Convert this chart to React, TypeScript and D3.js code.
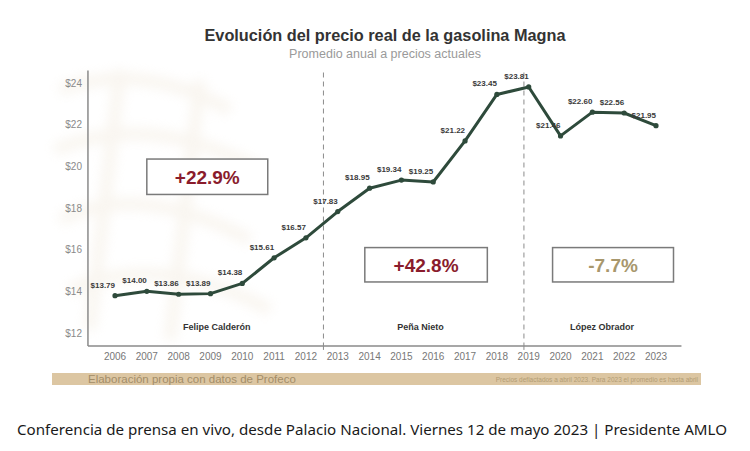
import React from "react";
import * as d3 from "d3";

const years = [2006, 2007, 2008, 2009, 2010, 2011, 2012, 2013, 2014, 2015, 2016, 2017, 2018, 2019, 2020, 2021, 2022, 2023];
const prices = [13.79, 14.0, 13.86, 13.89, 14.38, 15.61, 16.57, 17.83, 18.95, 19.34, 19.25, 21.22, 23.45, 23.81, 21.46, 22.6, 22.56, 21.95];
const yTicks = [12, 14, 16, 18, 20, 22, 24];
const dividers = [2012.55, 2018.85];
const presidents = ["Felipe Calderón", "Peña Nieto", "López Obrador"];
const presidentCenters = [2009.2, 2015.6, 2021.3];
const changes = ["+22.9%", "+42.8%", "-7.7%"];
const changeColors = ["#8a1c2c", "#8a1c2c", "#a8976c"];
const changeBoxes = [
  { x0: 2007.0, x1: 2010.8, y0: 20.35, y1: 18.65 },
  { x0: 2013.85, x1: 2017.7, y0: 16.1, y1: 14.45 },
  { x0: 2019.75, x1: 2023.55, y0: 16.1, y1: 14.45 },
];

const W = 750;
const H = 451;

export default function App() {
  const x = d3.scaleLinear().domain([2006, 2023]).range([115, 656]);
  const y = d3.scaleLinear().domain([12, 24]).range([333, 83]);
  const axisBottom = y(11.38);
  const axisTop = y(24.6);
  const axisLeft = x(2005.15);
  const axisRight = x(2023.8);
  const pts: [number, number][] = years.map((yr, i) => [x(yr), y(prices[i])]);
  const line = d3.line()(pts) || "";
  const fmt = (v: number) => "$" + v.toFixed(2);

  return (
    <svg
      width={W}
      height={H}
      viewBox={`0 0 ${W} ${H}`}
      style={{ position: "absolute", left: 0, top: 0, display: "block", background: "#fff" }}
    >
      <defs>
        <filter id="blur" x="-20%" y="-20%" width="140%" height="140%">
          <feGaussianBlur stdDeviation="6" />
        </filter>
      </defs>
      <rect x={0} y={0} width={W} height={H} fill="#ffffff" />
      {/* faint watermark */}
      <g opacity={0.35} fill="none" stroke="#eee4d4" strokeWidth={12} filter="url(#blur)">
        <path d="M60 90 Q 140 60 230 110" />
        <path d="M55 150 Q 150 110 260 170" />
        <path d="M60 220 Q 140 180 250 240" />
        <path d="M70 290 Q 160 250 270 310" />
        <path d="M120 70 L 90 330" />
        <path d="M200 80 L 170 340" />
      </g>

      {/* title */}
      <text x={385} y={41} textAnchor="middle" fontFamily="Liberation Sans, Arial, sans-serif" fontWeight="bold" fontSize={16.3} fill="#333">
        Evolución del precio real de la gasolina Magna
      </text>
      <text x={385} y={58} textAnchor="middle" fontFamily="Liberation Sans, Arial, sans-serif" fontSize={12.5} fill="#9a9a9a">
        Promedio anual a precios actuales
      </text>

      {/* axes */}
      <line x1={axisLeft} x2={axisLeft} y1={axisTop} y2={axisBottom} stroke="#8a8a8a" strokeWidth={1.5} />
      <line x1={axisLeft} x2={axisRight} y1={axisBottom} y2={axisBottom} stroke="#8a8a8a" strokeWidth={1.5} />

      {yTicks.map((t) => (
        <text key={t} x={82} y={y(t) + 3.5} textAnchor="end" fontFamily="Liberation Sans, Arial, sans-serif" fontSize={10} fill="#8a8a8a">
          {"$" + t}
        </text>
      ))}
      {years.map((yr) => (
        <text key={yr} x={x(yr)} y={360} textAnchor="middle" fontFamily="Liberation Sans, Arial, sans-serif" fontSize={10} fill="#777">
          {yr}
        </text>
      ))}

      {/* dividers */}
      {dividers.map((d) => (
        <g key={d}>
          <line x1={x(d)} x2={x(d)} y1={axisTop + 2} y2={axisBottom} stroke="#8c8c8c" strokeWidth={1} strokeDasharray="5,4" />
          <line x1={x(d)} x2={x(d)} y1={axisBottom} y2={axisBottom + 4} stroke="#8c8c8c" strokeWidth={1} />
        </g>
      ))}

      {/* change boxes */}
      {changeBoxes.map((b, i) => (
        <g key={i}>
          <rect
            x={x(b.x0)}
            y={y(b.y0)}
            width={x(b.x1) - x(b.x0)}
            height={y(b.y1) - y(b.y0)}
            fill="#fff"
            stroke="#7a7a7a"
            strokeWidth={1.5}
          />
          <text
            x={(x(b.x0) + x(b.x1)) / 2}
            y={(y(b.y0) + y(b.y1)) / 2 + 7}
            textAnchor="middle"
            fontFamily="Liberation Sans, Arial, sans-serif"
            fontWeight="bold"
            fontSize={19}
            fill={changeColors[i]}
          >
            {changes[i]}
          </text>
        </g>
      ))}

      {/* presidents */}
      {presidents.map((p, i) => (
        <text key={p} x={x(presidentCenters[i])} y={330} textAnchor="middle" fontFamily="Liberation Sans, Arial, sans-serif" fontWeight="bold" fontSize={9} fill="#333">
          {p}
        </text>
      ))}

      {/* line */}
      <path d={line} fill="none" stroke="#2e4a3b" strokeWidth={3} strokeLinejoin="round" />
      {pts.map(([px, py], i) => (
        <circle key={i} cx={px} cy={py} r={2.6} fill="#2e4a3b" />
      ))}
      {pts.map(([px, py], i) => (
        <text key={"l" + i} x={px} y={py - 8} textAnchor="end" fontFamily="Liberation Sans, Arial, sans-serif" fontWeight="bold" fontSize={8} fill="#3a3a3a">
          {fmt(prices[i])}
        </text>
      ))}

      {/* source bar */}
      <rect x={52} y={373} width={649} height={12} fill="#dcc6a2" />
      <text x={88} y={383} fontFamily="Liberation Sans, Arial, sans-serif" fontSize={11.5} fill="#a38d68">
        Elaboración propia con datos de Profeco
      </text>
      <text x={698} y={381.5} textAnchor="end" fontFamily="Liberation Sans, Arial, sans-serif" fontSize={6.5} fill="#b39d74">
        Precios deflactados a abril 2023. Para 2023 el promedio es hasta abril
      </text>

      {/* caption */}
      <text x={17} y={435} fontFamily="Noto Sans, Open Sans, sans-serif" fontSize={14.5} fill="#1a1a1a" textLength={710} lengthAdjust="spacingAndGlyphs">
        Conferencia de prensa en vivo, desde Palacio Nacional. Viernes 12 de mayo 2023 | Presidente AMLO
      </text>
    </svg>
  );
}
